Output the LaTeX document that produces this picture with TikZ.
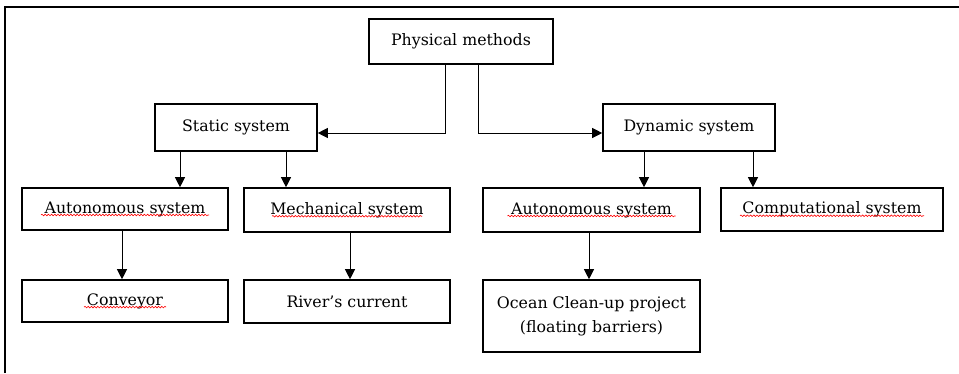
\documentclass[tikz,border=0pt]{standalone}
\usepackage{fontspec}
\setmainfont{DejaVu Serif}
\usetikzlibrary{arrows.meta,decorations.pathmorphing}
\tikzset{
  box/.style={draw, line width=1.6pt, inner sep=0pt, align=center,
    font=\fontsize{15.8}{23.5}\selectfont},
  arr/.style={-{Triangle[length=10pt,width=10pt]}, line width=0.8pt},
  frame/.style={line width=2pt},
  wave/.style={red, line width=0.6pt, decorate,
    decoration={snake, amplitude=0.8pt, segment length=3.2pt}}
}
\begin{document}
\begin{tikzpicture}[x=1pt,y=-1pt]
\useasboundingbox (0,0) rectangle (959,373);
\draw[frame] (5,373) -- (5,7) -- (959,7);

\node[box, minimum width=184pt, minimum height=45pt] (phys) at (461,41.5) {Physical methods};
\node[box, minimum width=162pt, minimum height=47pt] (stat) at (236,127.5) {Static system};
\node[box, minimum width=172pt, minimum height=47pt] (dyn) at (689,127.5) {Dynamic system};
\node[box, minimum width=206pt, minimum height=42pt] (aut1) at (125,209) {Autonomous system};
\node[box, minimum width=206pt, minimum height=44pt] (mech) at (347,210) {Mechanical system};
\node[box, minimum width=217pt, minimum height=44pt] (aut2) at (591.5,210) {Autonomous system};
\node[box, minimum width=222pt, minimum height=43pt] (comp) at (832,209.5) {Computational system};
\node[box, minimum width=206pt, minimum height=42pt] (conv) at (125,301) {Conveyor};
\node[box, minimum width=206pt, minimum height=43pt] (river) at (347,301.5) {River’s current};
\node[box, minimum width=217pt, minimum height=72pt] (ocean) at (591.5,316) {Ocean Clean-up project\\(floating barriers)};

\draw[wave] ([xshift=-84pt, yshift=-2pt]aut1.base) -- ([xshift=84pt, yshift=-2pt]aut1.base);
\draw[wave] ([xshift=-75pt, yshift=-2pt]mech.base) -- ([xshift=75pt, yshift=-2pt]mech.base);
\draw[wave] ([xshift=-84pt, yshift=-2pt]aut2.base) -- ([xshift=84pt, yshift=-2pt]aut2.base);
\draw[wave] ([xshift=-92pt, yshift=-2pt]comp.base) -- ([xshift=92pt, yshift=-2pt]comp.base);
\draw[wave] ([xshift=-41pt, yshift=-2pt]conv.base) -- ([xshift=41pt, yshift=-2pt]conv.base);

\coordinate (j1) at (445,133);
\coordinate (j2) at (478,133);
\coordinate (xa) at (180,0);
\coordinate (xb) at (286,0);
\coordinate (xc) at (644,0);
\coordinate (xd) at (753,0);
\coordinate (xe) at (122,0);
\coordinate (xf) at (350,0);
\coordinate (xg) at (589,0);

\draw[arr] (phys.south -| j1) |- (stat.east |- j1);
\draw[arr] (phys.south -| j2) |- (dyn.west |- j2);
\draw[arr] (stat.south -| xa) -- (aut1.north -| xa);
\draw[arr] (stat.south -| xb) -- (mech.north -| xb);
\draw[arr] (dyn.south -| xc) -- (aut2.north -| xc);
\draw[arr] (dyn.south -| xd) -- (comp.north -| xd);
\draw[arr] (aut1.south -| xe) -- (conv.north -| xe);
\draw[arr] (mech.south -| xf) -- (river.north -| xf);
\draw[arr] (aut2.south -| xg) -- (ocean.north -| xg);
\end{tikzpicture}
\end{document}
